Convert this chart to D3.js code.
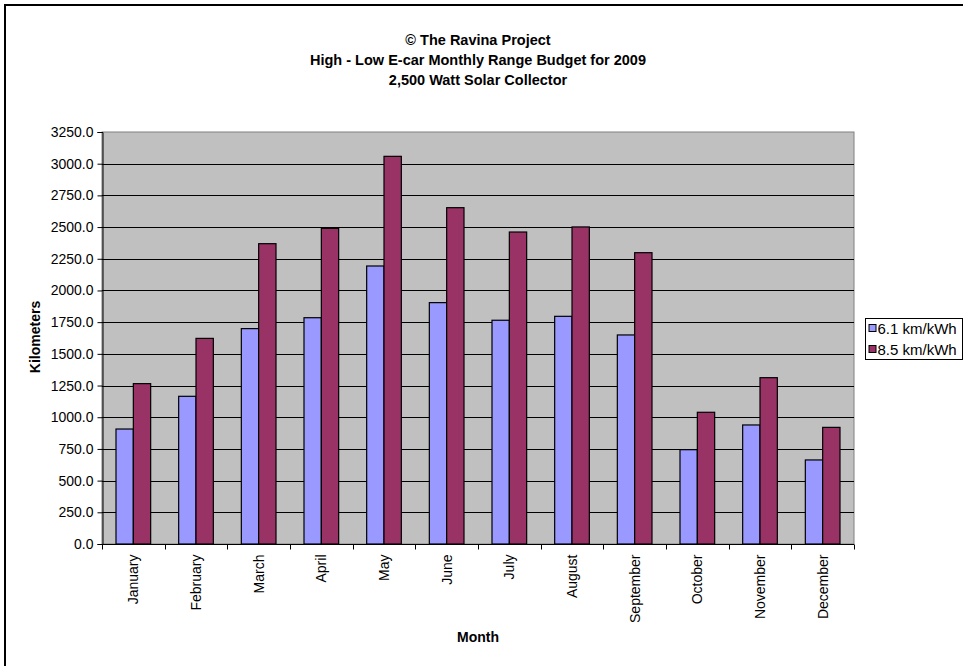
<!DOCTYPE html>
<html>
<head>
<meta charset="utf-8">
<script src="https://cdn.jsdelivr.net/npm/d3@7"></script>
<style>
  html, body { margin: 0; padding: 0; background: #fff; }
  svg { display: block; font-family: "Liberation Sans", Arial, sans-serif; }
</style>
</head>
<body>
<svg id="chart" width="963" height="666"></svg>
<script>
// Monthly range budget, km
const months = ["January","February","March","April","May","June","July","August","September","October","November","December"];
const low = [907, 1165, 1699, 1785, 2193, 1904, 1765, 1796, 1649, 744, 939, 663];     // 6.1 km/kWh
const high = [1265, 1622, 2369, 2490, 3058, 2653, 2461, 2501, 2298, 1039, 1312, 920];  // 8.5 km/kWh
const seriesNames = ["6.1 km/kWh", "8.5 km/kWh"];
const seriesColors = ["#9999FF", "#993366"];
const yTicks = [0, 250, 500, 750, 1000, 1250, 1500, 1750, 2000, 2250, 2500, 2750, 3000, 3250];
const titleLines = ["© The Ravina Project", "High - Low E-car Monthly Range Budget for 2009", "2,500 Watt Solar Collector"];

const svg = d3.select("#chart");
const plot = { left: 102, top: 132, right: 854, bottom: 544 };

// outer frame
svg.append("rect")
  .attr("x", 5).attr("y", 5).attr("width", 1000).attr("height", 1000)
  .attr("fill", "none").attr("stroke", "#000").attr("stroke-width", 2);

// title
svg.append("g").selectAll("text").data(titleLines).join("text")
  .attr("x", 478).attr("y", (d, i) => 45 + i * 20)
  .attr("text-anchor", "middle")
  .attr("font-size", 14.5).attr("font-weight", "bold")
  .text(d => d);

const x = d3.scaleBand().domain(months).range([plot.left, plot.right]).paddingInner(0).paddingOuter(0);
const y = d3.scaleLinear().domain([0, 3250]).range([plot.bottom, plot.top]);

// plot background
svg.append("rect")
  .attr("x", plot.left).attr("y", plot.top)
  .attr("width", plot.right - plot.left).attr("height", plot.bottom - plot.top)
  .attr("fill", "#C0C0C0").attr("stroke", "#808080").attr("stroke-width", 1);

// gridlines
svg.append("g").selectAll("line").data(yTicks.filter(t => t > 0 && t < 3250)).join("line")
  .attr("x1", plot.left).attr("x2", plot.right)
  .attr("y1", d => Math.round(y(d)) + 0.5).attr("y2", d => Math.round(y(d)) + 0.5)
  .attr("stroke", "#000").attr("stroke-width", 1);

// bars
const groupPad = 14;
const barW = (x.bandwidth() - 2 * groupPad) / 2;
const data = months.map((m, i) => ({ m, vals: [low[i], high[i]] }));
const groups = svg.append("g").selectAll("g").data(data).join("g");
groups.selectAll("rect").data(d => d.vals.map((v, k) => ({ m: d.m, v, k }))).join("rect")
  .attr("x", d => x(d.m) + groupPad + d.k * barW)
  .attr("y", d => y(d.v))
  .attr("width", barW)
  .attr("height", d => y(0) - y(d.v))
  .attr("fill", d => seriesColors[d.k])
  .attr("stroke", "#000").attr("stroke-width", 1.2);

// y axis
const yAxis = d3.axisLeft(y).tickValues(yTicks).tickFormat(d3.format(".1f")).tickSize(5).tickPadding(4);
const gy = svg.append("g").attr("transform", `translate(${plot.left + 0.5},0)`).call(yAxis);
gy.select(".domain").attr("stroke", "#000");
gy.selectAll("text").attr("font-size", 14).attr("fill", "#000").attr("font-family", "Liberation Sans, Arial, sans-serif");

// x axis
const gx = svg.append("g").attr("transform", `translate(0,${plot.bottom + 0.5})`);
gx.append("line").attr("x1", plot.left).attr("x2", plot.right).attr("stroke", "#000");
const bounds = d3.range(months.length + 1).map(i => plot.left + i * x.step());
gx.selectAll("line.tick").data(bounds).join("line").attr("class", "tick")
  .attr("x1", d => Math.round(d) + 0.5).attr("x2", d => Math.round(d) + 0.5)
  .attr("y1", 0).attr("y2", 5).attr("stroke", "#000");
gx.selectAll("text").data(months).join("text")
  .attr("transform", d => `translate(${x(d) + x.bandwidth() / 2 + 5},10) rotate(-90)`)
  .attr("text-anchor", "end")
  .attr("font-size", 14)
  .text(d => d);

// axis titles
svg.append("text")
  .attr("transform", "translate(40,337) rotate(-90)")
  .attr("text-anchor", "middle").attr("font-size", 14).attr("font-weight", "bold")
  .text("Kilometers");
svg.append("text")
  .attr("x", 478).attr("y", 642)
  .attr("text-anchor", "middle").attr("font-size", 14).attr("font-weight", "bold")
  .text("Month");

// legend
const lg = svg.append("g").attr("transform", "translate(865.5,318.5)");
lg.append("rect").attr("width", 97).attr("height", 41).attr("fill", "#fff").attr("stroke", "#000");
const items = lg.selectAll("g").data(seriesNames).join("g")
  .attr("transform", (d, i) => `translate(0,${10 + i * 21})`);
items.append("rect").attr("x", 3.5).attr("y", -4).attr("width", 7).attr("height", 7)
  .attr("fill", (d, i) => seriesColors[i]).attr("stroke", "#000");
items.append("text").attr("x", 12).attr("y", 5).attr("font-size", 15).text(d => d);
</script>
</body>
</html>
